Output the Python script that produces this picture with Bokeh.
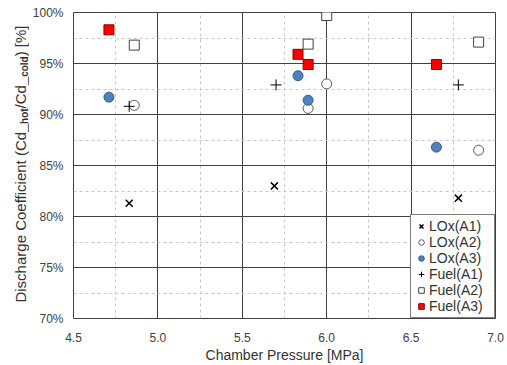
import math
from bokeh.plotting import figure
from bokeh.layouts import row
from bokeh.models import FixedTicker, PrintfTickFormatter, Legend, LegendItem, Range1d
from bokeh.core.properties import value
from bokeh.embed import file_html
from bokeh.resources import INLINE

# ---- data ----
lox_a1_x = [4.83, 5.69, 6.78]
lox_a1_y = [81.3, 83.0, 81.8]
lox_a2_x = [4.86, 5.89, 6.00, 6.90]
lox_a2_y = [90.9, 90.6, 93.0, 86.5]
lox_a3_x = [4.71, 5.83, 5.89, 6.65]
lox_a3_y = [91.7, 93.8, 91.4, 86.8]
fuel_a1_x = [4.83, 5.70, 6.78]
fuel_a1_y = [90.8, 92.9, 92.9]
fuel_a2_x = [4.86, 5.89, 6.00, 6.90]
fuel_a2_y = [96.8, 96.9, 99.7, 97.1]
fuel_a3_x = [4.71, 5.83, 5.89, 6.65]
fuel_a3_y = [98.3, 95.9, 94.9, 94.9]

x_major = [4.5, 5.0, 5.5, 6.0, 6.5, 7.0]
x_minor = [4.75, 5.25, 5.75, 6.25, 6.75]
y_major = [70, 75, 80, 85, 90, 95, 100]
y_minor = [72.5, 77.5, 82.5, 87.5, 92.5, 97.5]

FONT = "Liberation Sans"
TXT = "#333333"
LEFT_W = 29
FRAME_TOP = 12
FRAME_BOTTOM = 319

p = figure(width=507 - LEFT_W, height=365, output_backend="svg", toolbar_location=None,
           x_range=Range1d(4.5, 7.0), y_range=Range1d(70, 100),
           min_border_left=41, min_border_right=12, min_border_top=12, min_border_bottom=46)

p.outline_line_color = "#404040"
p.outline_line_width = 1

xt = FixedTicker(ticks=x_major, minor_ticks=x_minor)
yt = FixedTicker(ticks=y_major, minor_ticks=y_minor)
p.xaxis.ticker = xt
p.yaxis.ticker = yt
p.xgrid.ticker = xt
p.ygrid.ticker = yt
p.xaxis.formatter = PrintfTickFormatter(format="%.1f")
p.yaxis.formatter = PrintfTickFormatter(format="%d%%")

for ax in (p.xaxis[0], p.yaxis[0]):
    ax.axis_line_color = None
    ax.major_tick_line_color = None
    ax.minor_tick_line_color = None
    ax.major_tick_out = 0
    ax.minor_tick_out = 0
    ax.major_tick_in = 0
    ax.minor_tick_in = 0
    ax.major_label_text_font = FONT
    ax.major_label_text_font_size = "12px"
    ax.major_label_text_color = "#404040"
p.xaxis.major_label_standoff = 14
p.yaxis.major_label_standoff = 10

p.xaxis.axis_label = "Chamber Pressure [MPa]"
p.xaxis.axis_label_text_font = FONT
p.xaxis.axis_label_text_font_size = "14px"
p.xaxis.axis_label_text_font_style = "normal"
p.xaxis.axis_label_text_color = TXT
p.xaxis.axis_label_standoff = 2

for g in (p.xgrid[0], p.ygrid[0]):
    g.grid_line_color = "#404040"
    g.grid_line_width = 1
    g.minor_grid_line_color = "#c8c8c8"
    g.minor_grid_line_dash = "3 3"
    g.minor_grid_line_width = 1

r1 = p.scatter(lox_a1_x, lox_a1_y, marker="x", size=10, line_color="black", line_width=1.5)
r2 = p.scatter(lox_a2_x, lox_a2_y, marker="circle", size=10, line_color="#595959", fill_color="white", line_width=1)
r3 = p.scatter(lox_a3_x, lox_a3_y, marker="circle", size=10, line_color="#385d8a", fill_color="#4f81bd", line_width=1)
r4 = p.scatter(fuel_a1_x, fuel_a1_y, marker="cross", size=11, line_color="black", line_width=1)
r5 = p.scatter(fuel_a2_x, fuel_a2_y, marker="square", size=10, line_color="#404040", fill_color="white", line_width=1)
r6 = p.scatter(fuel_a3_x, fuel_a3_y, marker="square", size=10, line_color="#8b0000", fill_color="#ff0000", line_width=1)

legend = Legend(items=[
    LegendItem(label="LOx(A1)", renderers=[r1]),
    LegendItem(label="LOx(A2)", renderers=[r2]),
    LegendItem(label="LOx(A3)", renderers=[r3]),
    LegendItem(label="Fuel(A1)", renderers=[r4]),
    LegendItem(label="Fuel(A2)", renderers=[r5]),
    LegendItem(label="Fuel(A3)", renderers=[r6]),
], location="bottom_right")
legend.margin = 0
legend.padding = 3
legend.spacing = 0
legend.glyph_width = 14
legend.glyph_height = 16
legend.label_height = 16
legend.label_width = 62
legend.label_standoff = 1
legend.label_text_font = FONT
legend.label_text_font_size = "14px"
legend.label_text_color = TXT
legend.border_line_color = "black"
legend.border_line_width = 1
legend.background_fill_color = "white"
legend.background_fill_alpha = 1
p.add_layout(legend)

# ---- left strip holding the rotated y-axis title (with subscripts) ----
# its frame is aligned with the main plot's frame by the row layout, so use a
# range that maps data units 1:1 onto canvas pixels
q = figure(width=LEFT_W, height=365, output_backend="svg", toolbar_location=None,
           x_range=Range1d(0, LEFT_W), y_range=Range1d(FRAME_BOTTOM, FRAME_TOP),
           x_axis_type=None, y_axis_type=None, title=None,
           min_border_left=0, min_border_right=0, min_border_top=0, min_border_bottom=0)
q.outline_line_color = None
q.grid.visible = False

W_REG = {" ": 278, "D": 722, "i": 222, "s": 500, "c": 500, "h": 556, "a": 556, "r": 333,
         "g": 556, "e": 556, "C": 722, "o": 556, "f": 278, "n": 556, "t": 278, "(": 333,
         ")": 333, "d": 556, "_": 556, "/": 278, "[": 278, "]": 278, "%": 889, "l": 222}
W_BOLD = {"h": 611, "o": 611, "t": 333, "c": 556, "l": 278, "d": 611}

MAIN_FS = 15
SUB_FS = 10
pieces = [
    ("Discharge Coefficient (Cd_", False),
    ("hot", True),
    ("/Cd_", False),
    ("cold", True),
    (") [%]", False),
]
cy = 303.0
for txt, sub in pieces:
    fs = SUB_FS if sub else MAIN_FS
    table = W_BOLD if sub else W_REG
    q.text(x=[23.5 if sub else 20], y=[cy], text=[txt], angle=math.pi / 2,
           text_align="left", text_baseline="middle", text_font=value(FONT),
           text_font_size=f"{fs}px", text_font_style="bold" if sub else "normal",
           text_color=TXT)
    cy -= sum(table[ch] for ch in txt) / 1000.0 * fs

layout = row(q, p, spacing=0)
open("out.html", "w").write(file_html(layout, INLINE))
